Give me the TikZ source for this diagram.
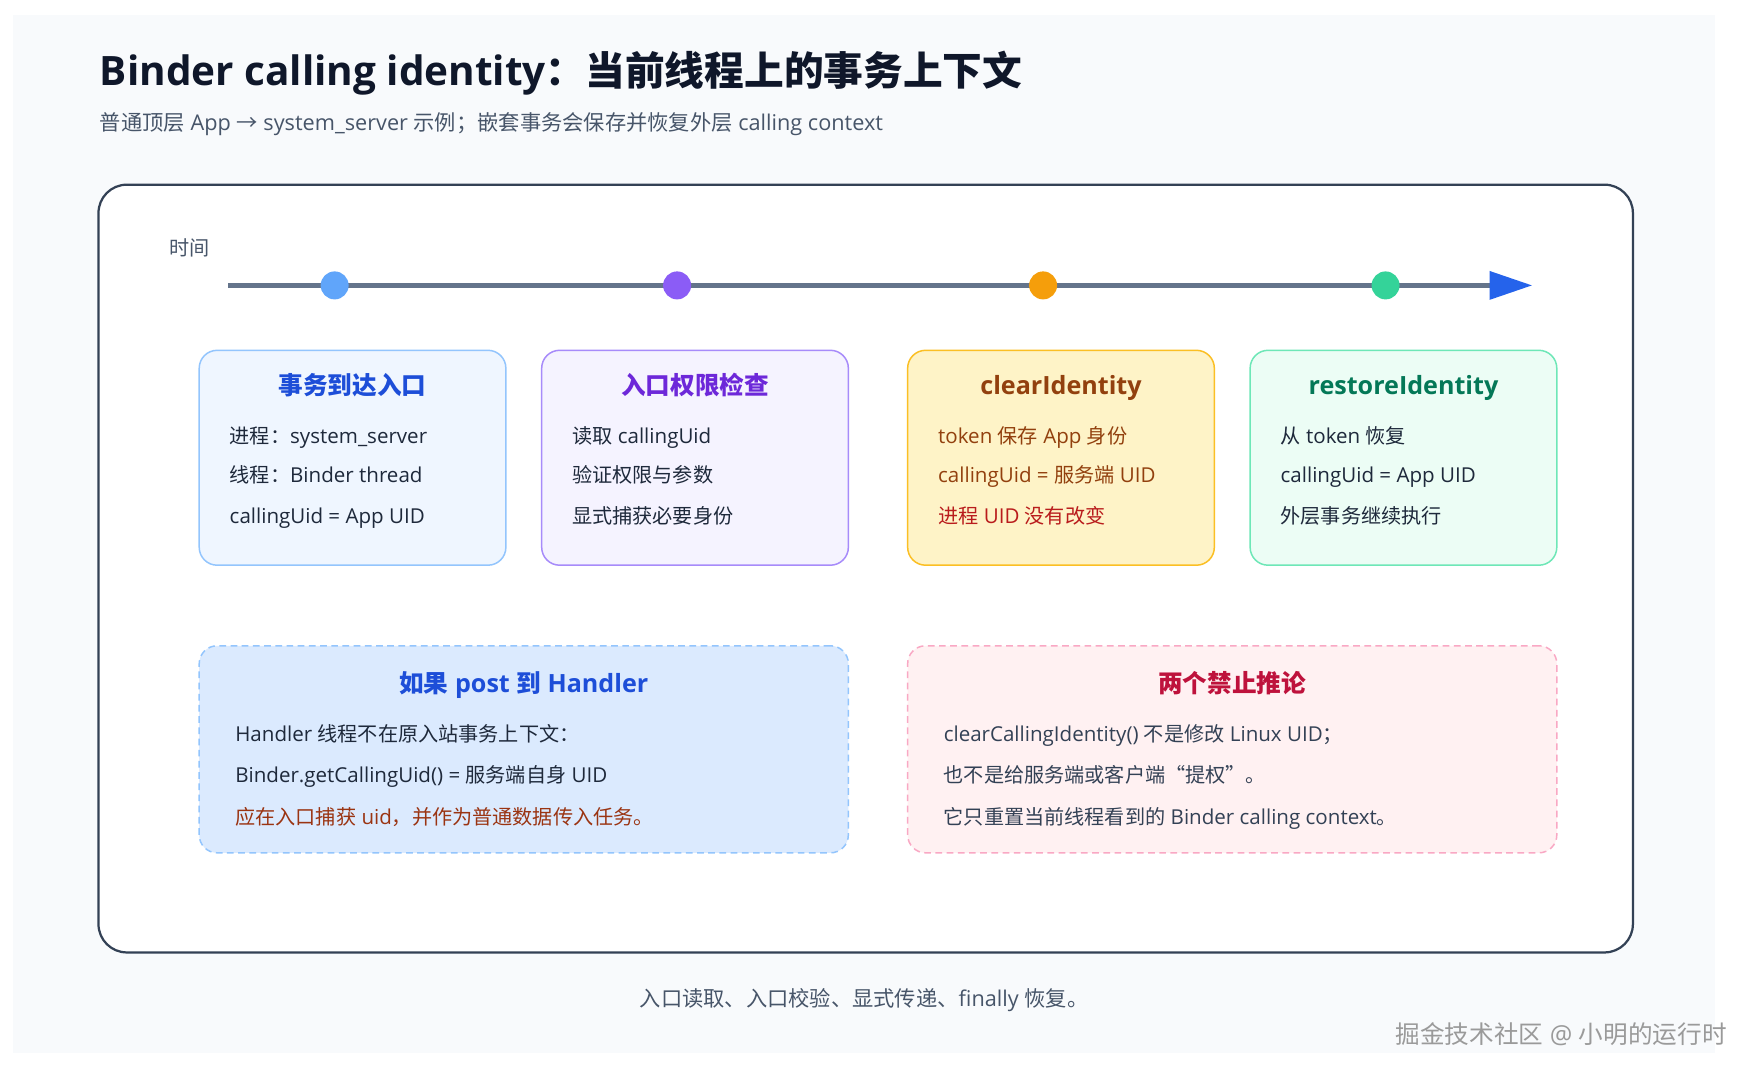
\documentclass[tikz,border=0pt]{standalone}
\usepackage{fontspec}
\setmainfont{Open Sans}[Scale=1.02]
\newfontfamily\cjkf{Noto Sans CJK SC}
\newXeTeXintercharclass\CJKcls
\newcount\cjkcc
\cjkcc="2E80
\loop \XeTeXcharclass\cjkcc=\CJKcls \advance\cjkcc by 1 \ifnum\cjkcc<"A000 \repeat
\cjkcc="FF00
\loop \XeTeXcharclass\cjkcc=\CJKcls \advance\cjkcc by 1 \ifnum\cjkcc<"FFF0 \repeat
\XeTeXcharclass"201C=\CJKcls
\XeTeXcharclass"201D=\CJKcls
\XeTeXcharclass"2192=\CJKcls
\XeTeXinterchartoks 0 \CJKcls = {\begingroup\cjkf}
\XeTeXinterchartoks 4095 \CJKcls = {\begingroup\cjkf}
\XeTeXinterchartoks \CJKcls 0 = {\endgroup}
\XeTeXinterchartoks \CJKcls 4095 = {\endgroup}
\XeTeXinterchartokenstate=1
\usetikzlibrary{arrows.meta}
\definecolor{panelbg}{HTML}{F8FAFC}
\definecolor{titlec}{HTML}{0F172A}
\definecolor{subc}{HTML}{475569}
\definecolor{framec}{HTML}{334155}
\definecolor{linec}{HTML}{64748B}
\definecolor{arrowblue}{HTML}{2563EB}
\definecolor{bodyc}{HTML}{1E293B}
\definecolor{aFill}{HTML}{EFF6FF}\definecolor{aDraw}{HTML}{93C5FD}\definecolor{aText}{HTML}{1D4ED8}
\definecolor{bFill}{HTML}{F5F3FF}\definecolor{bDraw}{HTML}{A78BFA}\definecolor{bText}{HTML}{6D28D9}
\definecolor{cFill}{HTML}{FEF3C7}\definecolor{cDraw}{HTML}{FBBF24}\definecolor{cText}{HTML}{92400E}\definecolor{cRed}{HTML}{B91C1C}
\definecolor{dFill}{HTML}{ECFDF5}\definecolor{dDraw}{HTML}{6EE7B7}\definecolor{dText}{HTML}{047857}
\definecolor{eFill}{HTML}{DBEAFE}\definecolor{eDraw}{HTML}{93C5FD}\definecolor{eWarn}{HTML}{9A3412}
\definecolor{fFill}{HTML}{FFF1F2}\definecolor{fDraw}{HTML}{F9A8C4}\definecolor{fText}{HTML}{BE123C}\definecolor{fBody}{HTML}{334155}
\definecolor{dotA}{HTML}{60A5FA}\definecolor{dotB}{HTML}{8B5CF6}\definecolor{dotC}{HTML}{F59E0B}\definecolor{dotD}{HTML}{34D399}
\definecolor{wmark}{HTML}{9A9A9A}
\newcommand{\fsz}[1]{\fontsize{#1}{#1}\selectfont}
\tikzset{
  txt/.style={inner sep=0pt, text height=0.85em, text depth=0.15em, yshift=-2pt},
  lt/.style={txt, anchor=west},
  card/.style={rounded corners=12pt, line width=1pt, minimum width=205.5pt, minimum height=144pt, inner sep=0pt},
  wide/.style={rounded corners=12pt, line width=1pt, dash pattern=on 4.5pt off 3pt, minimum width=435pt, minimum height=138.75pt, inner sep=0pt},
  cardtitle/.style={txt, font=\fsz{16.5}\bfseries},
  body/.style={lt, font=\fsz{13.5}, text=bodyc},
  dot/.style={circle, inner sep=0pt, minimum size=18.75pt},
}
\begin{document}
\begin{tikzpicture}[x=0.75pt, y=-0.75pt]
\useasboundingbox (0,0) rectangle (1569,964);
\fill[white] (0,0) rectangle (1569,964);
\fill[panelbg] (12,13) rectangle (1532,941);

% title
\node[lt, font=\fsz{26.6}\bfseries, text=titlec, yshift=-4pt] (title) at (89,64) {Binder calling identity：当前线程上的事务上下文};
\node[lt, font=\fsz{14.25}, text=subc] (sub) at (89,109) {普通顶层 App → system\_server 示例；嵌套事务会保存并恢复外层 calling context};

% main frame
\node[draw=framec, fill=white, line width=1.5pt, rounded corners=19pt, minimum width=1028.25pt, minimum height=514.5pt, inner sep=0pt] (frame) at (773.5,508) {};

\node[lt, font=\fsz{13.5}, text=subc] (time) at (151,221) {时间};

% timeline
\coordinate (tl0) at (204,255);
\coordinate (tl1) at (1369,255);
\draw[linec, line width=3pt, -{Triangle[length=28.5pt,width=18.5pt,color=arrowblue]}] (tl0) -- (tl1);
\node[dot, fill=dotA] (d1) at (299,255) {};
\node[dot, fill=dotB] (d2) at (605,255) {};
\node[dot, fill=dotC] (d3) at (932,255) {};
\node[dot, fill=dotD] (d4) at (1238,255) {};

% row 1 cards
\node[card, fill=aFill, draw=aDraw] (c1) at (315,409) {};
\node[card, fill=bFill, draw=bDraw] (c2) at (621,409) {};
\node[card, fill=cFill, draw=cDraw] (c3) at (948,409) {};
\node[card, fill=dFill, draw=dDraw] (c4) at (1254,409) {};

\node[cardtitle, text=aText] (c1t) at (315,345) {事务到达入口};
\node[body] (c1a) at (205,389) {进程：system\_server};
\node[body] (c1b) at (205,424) {线程：Binder thread};
\node[body] (c1c) at (205,460) {callingUid = App UID};

\node[cardtitle, text=bText] (c2t) at (621,345) {入口权限检查};
\node[body] (c2a) at (511,389) {读取 callingUid};
\node[body] (c2b) at (511,424) {验证权限与参数};
\node[body] (c2c) at (511,460) {显式捕获必要身份};

\node[cardtitle, text=cText] (c3t) at (948,345) {clearIdentity};
\node[body, text=cText] (c3a) at (838,389) {token 保存 App 身份};
\node[body, text=cText] (c3b) at (838,424) {callingUid = 服务端 UID};
\node[body, text=cRed] (c3c) at (838,460) {进程 UID 没有改变};

\node[cardtitle, text=dText] (c4t) at (1254,345) {restoreIdentity};
\node[body] (c4a) at (1144,389) {从 token 恢复};
\node[body] (c4b) at (1144,424) {callingUid = App UID};
\node[body] (c4c) at (1144,460) {外层事务继续执行};

% row 2 cards
\node[wide, fill=eFill, draw=eDraw] (c5) at (468,669.5) {};
\node[wide, fill=fFill, draw=fDraw] (c6) at (1101,669.5) {};

\node[cardtitle, text=aText] (c5t) at (468,611) {如果 post 到 Handler};
\node[body] (c5a) at (210,655) {Handler 线程不在原入站事务上下文：};
\node[body] (c5b) at (210,692) {Binder.getCallingUid() = 服务端自身 UID};
\node[body, text=eWarn] (c5c) at (210,729) {应在入口捕获 uid，并作为普通数据传入任务。};

\node[cardtitle, text=fText] (c6t) at (1101,611) {两个禁止推论};
\node[body, text=fBody] (c6a) at (843,655) {clearCallingIdentity() 不是修改 Linux UID；};
\node[body, text=fBody] (c6b) at (843,692) {也不是给服务端或客户端“提权”。};
\node[body, text=fBody] (c6c) at (843,729) {它只重置当前线程看到的 Binder calling context。};

% footer
\node[txt, font=\fsz{14.25}, text=subc] (foot) at (772,892) {入口读取、入口校验、显式传递、finally 恢复。};

% watermark
\node[txt, anchor=east, font=\fsz{16.5}, text=wmark] (wm) at (1543,925) {掘金技术社区 @ 小明的运行时};
\end{tikzpicture}
\end{document}
